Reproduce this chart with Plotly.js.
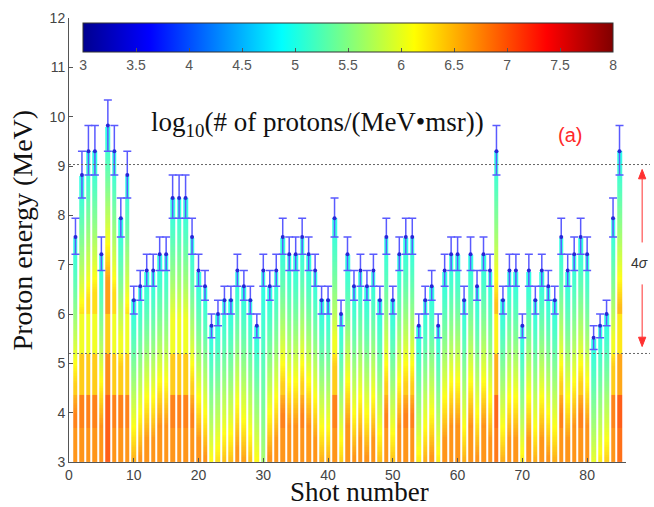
<!DOCTYPE html>
<html><head><meta charset="utf-8">
<script src="https://cdn.plot.ly/plotly-3.0.1.min.js"></script>
<style>html,body{margin:0;padding:0;background:#fff}#chart{width:654px;height:507px}</style>
</head><body><div id="chart"></div>
<script>
// ---- data ----
const shotNumbers = Array.from({length: 85}, (_, i) => i + 1);
const cutoffEnergy = [
  7.56, 8.82, 9.30, 9.30, 7.21, 9.82, 9.30, 7.94, 8.82, 6.28,
  6.56, 6.88, 6.88, 7.21, 7.21, 8.35, 8.35, 8.35, 7.56, 6.88,
  6.56, 5.76, 6.00, 6.28, 6.28, 6.88, 6.56, 6.28, 5.76, 6.88,
  6.56, 6.88, 7.56, 7.21, 7.21, 7.56, 7.21, 6.88, 6.28, 6.28,
  7.94, 6.00, 7.21, 6.56, 6.88, 6.56, 6.88, 6.28, 7.56, 6.28,
  7.21, 7.56, 7.56, 5.76, 6.28, 6.56, 5.76, 6.88, 7.21, 7.21,
  6.28, 7.21, 6.56, 7.21, 6.88, 9.30, 6.28, 6.88, 6.88, 5.76,
  6.88, 6.28, 6.88, 6.56, 6.28, 7.56, 6.88, 7.21, 7.56, 7.21,
  5.52, 5.76, 6.00, 7.94, 9.30
];
// detector energy levels (error bars span to the neighbouring levels)
const energyLevels = [5.28, 5.52, 5.76, 6.00, 6.28, 6.56, 6.88, 7.21, 7.56, 7.94, 8.35, 8.82, 9.30, 9.82, 10.34];
// spectral steepness of each shot (colour gradient below the cut-off)
const fluxSlope = [
  0.30, 0.30, 0.28, 0.30, 0.30, 0.33, 0.30, 0.30, 0.30, 0.30,
  0.30, 0.30, 0.30, 0.30, 0.30, 0.30, 0.30, 0.30, 0.30, 0.30,
  0.30, 0.28, 0.28, 0.28, 0.28, 0.28, 0.28, 0.28, 0.28, 0.10,
  0.30, 0.30, 0.30, 0.30, 0.30, 0.30, 0.30, 0.30, 0.30, 0.30,
  0.30, 0.30, 0.30, 0.30, 0.30, 0.30, 0.30, 0.28, 0.30, 0.28,
  0.30, 0.30, 0.30, 0.30, 0.30, 0.30, 0.30, 0.30, 0.30, 0.30,
  0.30, 0.30, 0.30, 0.30, 0.30, 0.30, 0.30, 0.30, 0.30, 0.30,
  0.30, 0.30, 0.30, 0.30, 0.30, 0.30, 0.30, 0.30, 0.30, 0.30,
  0.28, 0.30, 0.30, 0.30, 0.30
];
// extra saturation allowed for the brightest shots
const capBoost = [
  0, 0, 0, 0, 0, 0.35, 0, 0, 0, 0,
  0, 0, 0, 0, 0, 0, 0, 0, 0, 0,
  0, 0, 0, 0, 0, 0, 0, 0, 0, 0,
  0, 0, 0, 0, 0, 0, 0, 0, 0, 0,
  0, 0, 0, 0, 0, 0, 0, 0, 0, 0,
  0, 0, 0, 0, 0, 0, 0, 0, 0, 0,
  0, 0, 0, 0, 0, 0.15, 0, 0, 0, 0,
  0, 0, 0, 0, 0, 0, 0, 0, 0, 0,
  0, 0, 0, 0, 0.2
];
// absolute energy bands (MeV) and the saturated log10 value in each band
const bandEdges = [3.0, 3.7, 4.36, 5.2, 6.02];
const bandCap   = [6.7, 6.8, 6.4, 6.05, 6.3];
const cutoffLog = 5.0;
const colorTicks = [3, 3.5, 4, 4.5, 5, 5.5, 6, 6.5, 7, 7.5, 8];
const xTicks = [0, 10, 20, 30, 40, 50, 60, 70, 80];
const yTicks = [3, 4, 5, 6, 7, 8, 9, 10, 11, 12];
const meanPlus2Sigma = 9.03, meanMinus2Sigma = 5.2;
const arrowTop = 8.93, arrowBottom = 5.34;

// ---- build heatmap table ----
const yEdges = [];
for (let k = 0; k <= 148; k++) yEdges.push(+(3 + 0.05 * k).toFixed(2));
const z = [];
for (let r = 0; r < yEdges.length - 1; r++) {
  const top = yEdges[r + 1], mid = (yEdges[r] + yEdges[r + 1]) / 2;
  let b = 0;
  for (let j = 0; j < bandEdges.length; j++) if (mid >= bandEdges[j]) b = j;
  z.push(cutoffEnergy.map((e, i) => {
    if (top > e + 0.02) return null;
    const v = cutoffLog + fluxSlope[i] * Math.pow(Math.max(e - mid, 0), 1.4);
    return Math.min(v, bandCap[b] + capBoost[i], 7.0);
  }));
}
const errUp = [], errDown = [];
cutoffEnergy.forEach(e => {
  let k = 0, best = 1e9;
  energyLevels.forEach((l, j) => { if (Math.abs(l - e) < best) { best = Math.abs(l - e); k = j; } });
  errUp.push(+(energyLevels[Math.min(k + 1, energyLevels.length - 1)] - e).toFixed(3));
  errDown.push(+(e - energyLevels[Math.max(k - 1, 0)]).toFixed(3));
});

const jet = [[0, 'rgb(0,0,143)'], [0.125, 'rgb(0,0,255)'], [0.375, 'rgb(0,255,255)'],
             [0.625, 'rgb(255,255,0)'], [0.875, 'rgb(255,0,0)'], [1, 'rgb(128,0,0)']];

const heat = {
  type: 'heatmap', x: shotNumbers, y: yEdges, z: z,
  zmin: 3, zmax: 8, colorscale: jet, xgap: 2, opacity: 0.9, hoverinfo: 'skip',
  colorbar: {
    orientation: 'h', x: 0.501, xanchor: 'center', y: 0.989, yanchor: 'top',
    len: 530, lenmode: 'pixels', thickness: 29, thicknessmode: 'pixels',
    xpad: 0, ypad: 0, outlinecolor: '#333', outlinewidth: 1, borderwidth: 0,
    bgcolor: 'rgba(0,0,0,0)',
    tickvals: colorTicks, ticktext: colorTicks.map(String),
    ticks: 'inside', ticklen: 4, tickcolor: '#555',
    tickfont: {family: 'Liberation Sans, Arial', size: 14, color: '#555'}
  }
};
const tops = {
  type: 'scatter', mode: 'markers', x: shotNumbers, y: cutoffEnergy,
  marker: {color: '#2626d8', size: 4},
  error_y: {type: 'data', symmetric: false, array: errUp, arrayminus: errDown,
            color: '#5a5aff', thickness: 1.5, width: 4},
  hoverinfo: 'x+y'
};

const arrowX = 1.029, headW = 0.0065, headH = 0.19;
const red = '#ff3030';
const layout = {
  width: 654, height: 507,
  margin: {l: 69, r: 28, t: 18, b: 45},
  paper_bgcolor: '#fff', plot_bgcolor: '#fff', showlegend: false,
  font: {family: 'Liberation Sans, Arial', size: 14, color: '#444'},
  xaxis: {range: [0, 86], tickvals: xTicks, ticks: 'inside', ticklen: 4, tickcolor: '#555',
          showline: true, linecolor: '#555', linewidth: 1, showgrid: false, zeroline: false,
          tickfont: {family: 'Liberation Sans, Arial', size: 14, color: '#444'}},
  yaxis: {range: [3, 12], tickvals: yTicks, ticks: 'inside', ticklen: 4, tickcolor: '#555',
          showline: true, linecolor: '#555', linewidth: 1, showgrid: false, zeroline: false,
          tickfont: {family: 'Liberation Sans, Arial', size: 14, color: '#444'}},
  shapes: [
    {type: 'line', xref: 'paper', yref: 'y', x0: 0, x1: 1.043, y0: meanPlus2Sigma, y1: meanPlus2Sigma,
     line: {color: '#666', width: 1, dash: '2px,2px'}},
    {type: 'line', xref: 'paper', yref: 'y', x0: 0, x1: 1.043, y0: meanMinus2Sigma, y1: meanMinus2Sigma,
     line: {color: '#666', width: 1, dash: '2px,2px'}},
    {type: 'line', xref: 'paper', yref: 'y', x0: arrowX, x1: arrowX, y0: arrowTop - headH, y1: 7.45,
     line: {color: red, width: 1}},
    {type: 'line', xref: 'paper', yref: 'y', x0: arrowX, x1: arrowX, y0: 6.6, y1: arrowBottom + headH,
     line: {color: red, width: 1}},
    {type: 'path', xref: 'paper', yref: 'y', fillcolor: red, line: {color: red, width: 1},
     path: `M ${arrowX - headW},${arrowTop - headH} L ${arrowX + headW},${arrowTop - headH} L ${arrowX},${arrowTop} Z`},
    {type: 'path', xref: 'paper', yref: 'y', fillcolor: red, line: {color: red, width: 1},
     path: `M ${arrowX - headW},${arrowBottom + headH} L ${arrowX + headW},${arrowBottom + headH} L ${arrowX},${arrowBottom} Z`}
  ],
  annotations: [
    {xref: 'paper', yref: 'y', x: 0.446, y: 9.85, xanchor: 'center', yanchor: 'middle', showarrow: false,
     text: 'log<sub>10</sub>(# of protons/(MeV•msr))',
     font: {family: 'Liberation Serif, Times New Roman', size: 27, color: '#111'}},
    {xref: 'paper', yref: 'y', x: 0.9, y: 9.63, xanchor: 'center', yanchor: 'middle', showarrow: false,
     text: '(a)', font: {family: 'Liberation Sans, Arial', size: 20, color: '#ff2a2a'}},
    {xref: 'paper', yref: 'y', x: 1.025, y: 7.03, xanchor: 'center', yanchor: 'middle', showarrow: false,
     text: '4<i>σ</i>', font: {family: 'Liberation Sans, Arial', size: 14, color: '#333'}},
    {xref: 'paper', yref: 'paper', x: -0.084, y: 0.522, xanchor: 'center', yanchor: 'middle',
     showarrow: false, textangle: -90, text: 'Proton energy (MeV)',
     font: {family: 'Liberation Serif, Times New Roman', size: 28, color: '#111'}},
    {xref: 'paper', yref: 'paper', x: 0.522, y: -0.068, xanchor: 'center', yanchor: 'middle',
     showarrow: false, text: 'Shot number',
     font: {family: 'Liberation Serif, Times New Roman', size: 27, color: '#111'}}
  ]
};
Plotly.newPlot('chart', [heat, tops], layout, {displayModeBar: false, staticPlot: true});
</script></body></html>
